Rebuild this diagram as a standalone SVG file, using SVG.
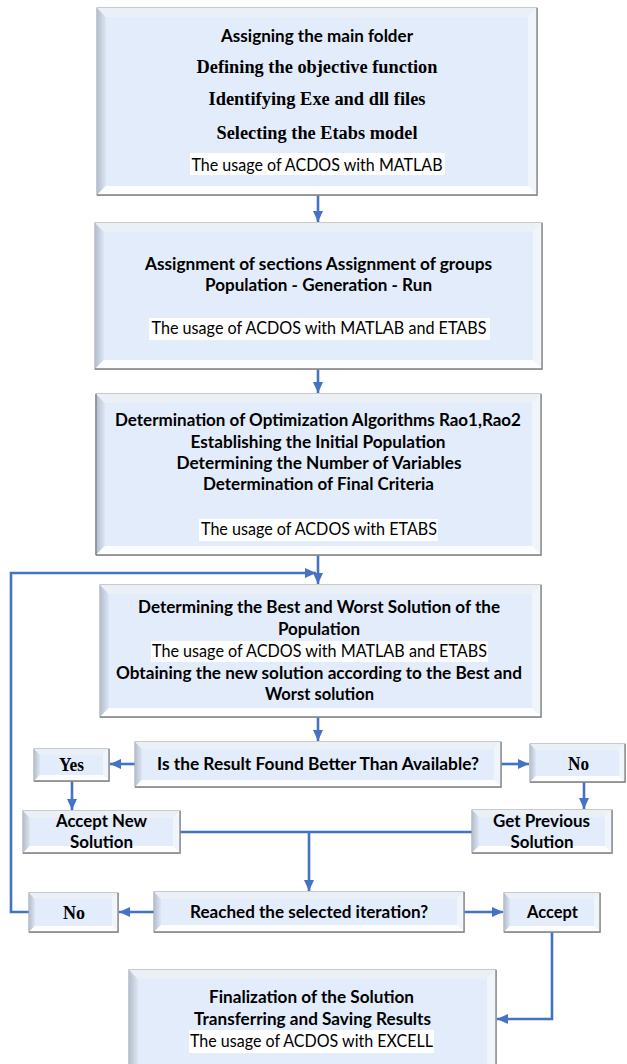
<svg xmlns="http://www.w3.org/2000/svg" width="627" height="1064" viewBox="0 0 627 1064">
<style>
.frame{fill:#ffffff;stroke:#a8a8a8;stroke-width:1.2}
.bt{fill:#ebeff6}
.bl{fill:url(#gl)}
.bb{fill:#fbfdff}
.br{fill:#f0f5fc}
.face{fill:#e2ecfa}
.edge{fill:none;stroke:#808080;stroke-width:1.3}
.hl{fill:#ffffff}
.b{font-family:Lato,"Liberation Sans",sans-serif;font-weight:700;font-size:16.5px;fill:#000}
.r{font-family:Lato,"Liberation Sans",sans-serif;font-weight:400;font-size:17px;fill:#000}
.s{font-family:"Liberation Serif","Times New Roman",serif;font-weight:700;font-size:18px;fill:#000}
text{text-anchor:middle}
.c{fill:none;stroke:#4472c4;stroke-width:2.6}
.a{marker-end:url(#ah)}
</style>
<defs>
<linearGradient id="gl" x1="0" y1="0" x2="1" y2="0">
<stop offset="0" stop-color="#b3bdcd"/>
<stop offset="1" stop-color="#dde6f3"/>
</linearGradient>
<marker id="ah" markerUnits="userSpaceOnUse" markerWidth="12" markerHeight="12" viewBox="0 0 12 12" refX="11" refY="6" orient="auto">
<path d="M0,1 L11,6 L0,11 Z" fill="#4472c4"/>
</marker>
</defs>

<g id="connectors">
<path class="c a" d="M318,195 V222"/>
<path class="c a" d="M318,369 V393"/>
<path class="c a" d="M318,555 V584"/>
<path class="c a" d="M29,912 H11 V573 H316"/>
<path class="c a" d="M318,717 V741"/>
<path class="c a" d="M135,764 H110"/>
<path class="c a" d="M501,764 H529"/>
<path class="c a" d="M72,781 V810"/>
<path class="c a" d="M584,782 V809"/>
<path class="c" d="M180,832 H472"/>
<path class="c a" d="M309,832 V891"/>
<path class="c a" d="M154,912 H119"/>
<path class="c a" d="M464,912 H503"/>
<path class="c a" d="M552,932 V1019 H497"/>
</g>

<g id="n1">
<rect class="frame" x="97" y="8" width="440" height="187"/>
<polygon class="bt" points="97,8 537,8 528,17 106,17"/>
<polygon class="bl" points="97,8 106,17 106,186 97,195"/>
<polygon class="bb" points="97,195 106,186 528,186 537,195"/>
<polygon class="br" points="537,8 537,195 528,186 528,17"/>
<rect class="face" x="106" y="17" width="422" height="169"/>
<path class="edge" d="M97,195 H537 V8"/>
<rect class="hl" x="190" y="153" width="255" height="22"/>
<text class="b" x="317" y="42" textLength="192" lengthAdjust="spacingAndGlyphs">Assigning the main folder</text>
<text class="s" x="317" y="73" textLength="241" lengthAdjust="spacingAndGlyphs">Defining the objective function</text>
<text class="s" x="317" y="105" textLength="217" lengthAdjust="spacingAndGlyphs">Identifying Exe and dll files</text>
<text class="s" x="317" y="139" textLength="201" lengthAdjust="spacingAndGlyphs">Selecting the Etabs model</text>
<text class="r" x="317" y="171" textLength="251" lengthAdjust="spacingAndGlyphs">The usage of ACDOS with MATLAB</text>
</g>

<g id="n2">
<rect class="frame" x="95" y="223" width="447" height="146"/>
<polygon class="bt" points="95,223 542,223 533,232 104,232"/>
<polygon class="bl" points="95,223 104,232 104,360 95,369"/>
<polygon class="bb" points="95,369 104,360 533,360 542,369"/>
<polygon class="br" points="542,223 542,369 533,360 533,232"/>
<rect class="face" x="104" y="232" width="429" height="128"/>
<path class="edge" d="M95,369 H542 V223"/>
<rect class="hl" x="149" y="318" width="341" height="22"/>
<text class="b" x="318.5" y="270" textLength="347" lengthAdjust="spacingAndGlyphs">Assignment of sections Assignment of groups</text>
<text class="b" x="318.5" y="291" textLength="227" lengthAdjust="spacingAndGlyphs">Population - Generation - Run</text>
<text class="r" x="319" y="334" textLength="335" lengthAdjust="spacingAndGlyphs">The usage of ACDOS with MATLAB and ETABS</text>
</g>

<g id="n3">
<rect class="frame" x="96" y="394" width="445" height="161"/>
<polygon class="bt" points="96,394 541,394 532,403 105,403"/>
<polygon class="bl" points="96,394 105,403 105,546 96,555"/>
<polygon class="bb" points="96,555 105,546 532,546 541,555"/>
<polygon class="br" points="541,394 541,555 532,546 532,403"/>
<rect class="face" x="105" y="403" width="427" height="143"/>
<path class="edge" d="M96,555 H541 V394 M96,394 V555"/>
<rect class="hl" x="199" y="519" width="239" height="22"/>
<text class="b" x="318" y="426" textLength="406" lengthAdjust="spacingAndGlyphs">Determination of Optimization Algorithms Rao1,Rao2</text>
<text class="b" x="318" y="448" textLength="255" lengthAdjust="spacingAndGlyphs">Establishing the Initial Population</text>
<text class="b" x="319" y="469" textLength="285" lengthAdjust="spacingAndGlyphs">Determining the Number of Variables</text>
<text class="b" x="318.5" y="490" textLength="231" lengthAdjust="spacingAndGlyphs">Determination of Final Criteria</text>
<text class="r" x="319" y="535" textLength="236" lengthAdjust="spacingAndGlyphs">The usage of ACDOS with ETABS</text>
</g>

<g id="n4">
<rect class="frame" x="100" y="585" width="441" height="132"/>
<polygon class="bt" points="100,585 541,585 532,594 109,594"/>
<polygon class="bl" points="100,585 109,594 109,708 100,717"/>
<polygon class="bb" points="100,717 109,708 532,708 541,717"/>
<polygon class="br" points="541,585 541,717 532,708 532,594"/>
<rect class="face" x="109" y="594" width="423" height="114"/>
<path class="edge" d="M100,717 H541 V585"/>
<rect class="hl" x="151" y="641" width="337" height="21"/>
<text class="b" x="319" y="613" textLength="362" lengthAdjust="spacingAndGlyphs">Determining the Best and Worst Solution of the</text>
<text class="b" x="319" y="635" textLength="82" lengthAdjust="spacingAndGlyphs">Population</text>
<text class="r" x="319.5" y="657" textLength="335" lengthAdjust="spacingAndGlyphs">The usage of ACDOS with MATLAB and ETABS</text>
<text class="b" x="319" y="679" textLength="406" lengthAdjust="spacingAndGlyphs">Obtaining the new solution according to the Best and</text>
<text class="b" x="319.5" y="700" textLength="109" lengthAdjust="spacingAndGlyphs">Worst solution</text>
</g>

<g id="n5">
<rect class="frame" x="135" y="742" width="366" height="45"/>
<polygon class="bt" points="135,742 501,742 494,749 142,749"/>
<polygon class="bl" points="135,742 142,749 142,780 135,787"/>
<polygon class="bb" points="135,787 142,780 494,780 501,787"/>
<polygon class="br" points="501,742 501,787 494,780 494,749"/>
<rect class="face" x="142" y="749" width="352" height="31"/>
<path class="edge" d="M135,787 H501 V742"/>
<text class="b" x="318" y="770" textLength="322" lengthAdjust="spacingAndGlyphs">Is the Result Found Better Than Available?</text>
</g>

<g id="n6">
<rect class="frame" x="34" y="749" width="75" height="32"/>
<polygon class="bt" points="34,749 109,749 103,755 40,755"/>
<polygon class="bl" points="34,749 40,755 40,775 34,781"/>
<polygon class="bb" points="34,781 40,775 103,775 109,781"/>
<polygon class="br" points="109,749 109,781 103,775 103,755"/>
<rect class="face" x="40" y="755" width="63" height="20"/>
<path class="edge" d="M34,781 H109 V749"/>
<text class="s" x="71.5" y="771" textLength="25" lengthAdjust="spacingAndGlyphs">Yes</text>
</g>

<g id="n7">
<rect class="frame" x="530" y="744" width="95" height="38"/>
<polygon class="bt" points="530,744 625,744 619,750 536,750"/>
<polygon class="bl" points="530,744 536,750 536,776 530,782"/>
<polygon class="bb" points="530,782 536,776 619,776 625,782"/>
<polygon class="br" points="625,744 625,782 619,776 619,750"/>
<rect class="face" x="536" y="750" width="83" height="26"/>
<path class="edge" d="M530,782 H625 V744"/>
<text class="s" x="578.5" y="770" textLength="21" lengthAdjust="spacingAndGlyphs">No</text>
</g>

<g id="n8">
<rect class="frame" x="23" y="811" width="157" height="42"/>
<polygon class="bt" points="23,811 180,811 173,818 30,818"/>
<polygon class="bl" points="23,811 30,818 30,846 23,853"/>
<polygon class="bb" points="23,853 30,846 173,846 180,853"/>
<polygon class="br" points="180,811 180,853 173,846 173,818"/>
<rect class="face" x="30" y="818" width="143" height="28"/>
<path class="edge" d="M23,853 H180 V811"/>
<text class="b" x="101.5" y="827" textLength="91" lengthAdjust="spacingAndGlyphs">Accept New</text>
<text class="b" x="101.5" y="848" textLength="63" lengthAdjust="spacingAndGlyphs">Solution</text>
</g>

<g id="n9">
<rect class="frame" x="472" y="810" width="140" height="43"/>
<polygon class="bt" points="472,810 612,810 605,817 479,817"/>
<polygon class="bl" points="472,810 479,817 479,846 472,853"/>
<polygon class="bb" points="472,853 479,846 605,846 612,853"/>
<polygon class="br" points="612,810 612,853 605,846 605,817"/>
<rect class="face" x="479" y="817" width="126" height="29"/>
<path class="edge" d="M472,853 H612 V810"/>
<text class="b" x="541.5" y="827" textLength="97" lengthAdjust="spacingAndGlyphs">Get Previous</text>
<text class="b" x="542" y="848" textLength="63" lengthAdjust="spacingAndGlyphs">Solution</text>
</g>

<g id="n10">
<rect class="frame" x="154" y="892" width="310" height="40"/>
<polygon class="bt" points="154,892 464,892 457,899 161,899"/>
<polygon class="bl" points="154,892 161,899 161,925 154,932"/>
<polygon class="bb" points="154,932 161,925 457,925 464,932"/>
<polygon class="br" points="464,892 464,932 457,925 457,899"/>
<rect class="face" x="161" y="899" width="296" height="26"/>
<path class="edge" d="M154,932 H464 V892"/>
<text class="b" x="309" y="918" textLength="238" lengthAdjust="spacingAndGlyphs">Reached the selected iteration?</text>
</g>

<g id="n11">
<rect class="frame" x="29" y="893" width="89" height="39"/>
<polygon class="bt" points="29,893 118,893 112,899 35,899"/>
<polygon class="bl" points="29,893 35,899 35,926 29,932"/>
<polygon class="bb" points="29,932 35,926 112,926 118,932"/>
<polygon class="br" points="118,893 118,932 112,926 112,899"/>
<rect class="face" x="35" y="899" width="77" height="27"/>
<path class="edge" d="M29,932 H118 V893"/>
<text class="s" x="74" y="919" textLength="22" lengthAdjust="spacingAndGlyphs">No</text>
</g>

<g id="n12">
<rect class="frame" x="504" y="893" width="96" height="39"/>
<polygon class="bt" points="504,893 600,893 594,899 510,899"/>
<polygon class="bl" points="504,893 510,899 510,926 504,932"/>
<polygon class="bb" points="504,932 510,926 594,926 600,932"/>
<polygon class="br" points="600,893 600,932 594,926 594,899"/>
<rect class="face" x="510" y="899" width="84" height="27"/>
<path class="edge" d="M504,932 H600 V893"/>
<text class="b" x="552.5" y="918" textLength="51" lengthAdjust="spacingAndGlyphs">Accept</text>
</g>

<g id="n13">
<rect class="frame" x="129" y="970" width="367" height="105"/>
<polygon class="bt" points="129,970 496,970 487,979 138,979"/>
<polygon class="bl" points="129,970 138,979 138,1066 129,1075"/>
<polygon class="br" points="496,970 496,1075 487,1066 487,979"/>
<rect class="face" x="138" y="979" width="349" height="87"/>
<path class="edge" d="M496,1075 V970"/>
<rect class="hl" x="189" y="1030" width="245" height="23"/>
<text class="b" x="311.5" y="1003" textLength="205" lengthAdjust="spacingAndGlyphs">Finalization of the Solution</text>
<text class="b" x="312.5" y="1025" textLength="237" lengthAdjust="spacingAndGlyphs">Transferring and Saving Results</text>
<text class="r" x="311.5" y="1047" textLength="243" lengthAdjust="spacingAndGlyphs">The usage of ACDOS with EXCELL</text>
</g>
</svg>
